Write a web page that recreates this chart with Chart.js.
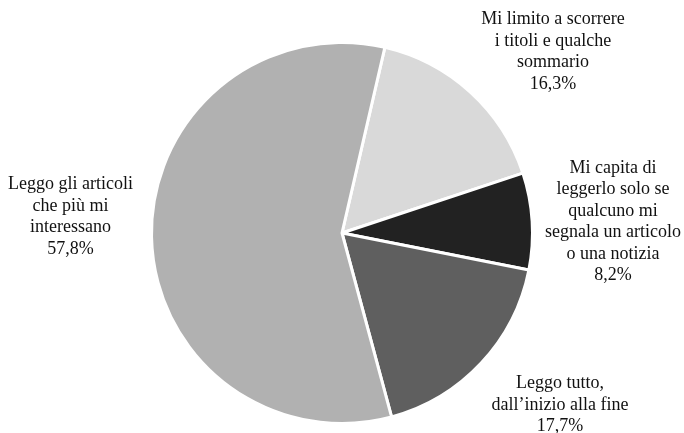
<!DOCTYPE html>
<html>
<head>
<meta charset="utf-8">
<script src="https://cdn.jsdelivr.net/npm/chart.js@4"></script>
<style>
html,body{margin:0;padding:0;background:#fff;}
#wrap{width:684px;height:433px;position:relative;}
</style>
</head>
<body>
<div id="wrap"><canvas id="c" width="684" height="433"></canvas></div>
<script>
const categories = [
  ["Mi limito a scorrere", "i titoli e qualche", "sommario"],
  ["Mi capita di", "leggerlo solo se", "qualcuno mi", "segnala un articolo", "o una notizia"],
  ["Leggo tutto,", "dall\u2019inizio alla fine"],
  ["Leggo gli articoli", "che più mi", "interessano"]
];
const values = [16.3, 8.2, 17.7, 57.8];
const valueLabels = ["16,3%", "8,2%", "17,7%", "57,8%"];
const colors = ["#d9d9d9", "#222222", "#5f5f5f", "#b1b1b1"];

// label block centers relative to pie center (px)
const labelOffsets = [[211, -181], [271, -11], [218, 172], [-271.5, -16]];

const labelPlugin = {
  id: 'outLabels',
  afterDraw(chart) {
    const ctx = chart.ctx;
    const arc = chart.getDatasetMeta(0).data[0];
    const cx = arc.x, cy = arc.y;
    const lh = 21.5;
    ctx.save();
    ctx.font = '18px "Liberation Serif", "Times New Roman", serif';
    ctx.fillStyle = '#111';
    ctx.textAlign = 'center';
    ctx.textBaseline = 'middle';
    categories.forEach((lines, i) => {
      const all = lines.concat([valueLabels[i]]);
      const x = cx + labelOffsets[i][0];
      const y0 = cy + labelOffsets[i][1] - (all.length - 1) * lh / 2;
      all.forEach((t, j) => ctx.fillText(t, x, y0 + j * lh));
    });
    ctx.restore();
  }
};

new Chart(document.getElementById('c'), {
  type: 'pie',
  data: {
    labels: categories.map(l => l.join(' ')),
    datasets: [{
      data: values,
      backgroundColor: colors,
      borderColor: '#ffffff',
      borderWidth: 3
    }]
  },
  options: {
    responsive: false,
    animation: false,
    rotation: 13,
    layout: { padding: { top: 41, bottom: 8, left: 0, right: 0 } },
    plugins: { legend: { display: false }, tooltip: { enabled: false } }
  },
  plugins: [labelPlugin]
});
</script>
</body>
</html>
